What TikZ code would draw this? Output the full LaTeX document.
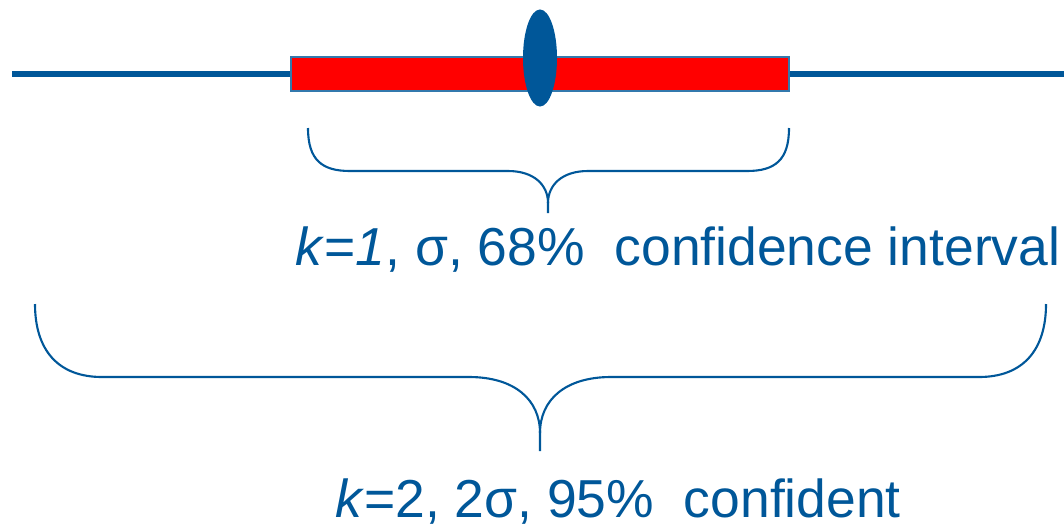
\documentclass[tikz,border=0pt]{standalone}
\usepackage{fontspec}
\setmainfont{Liberation Sans}
\usepackage{xcolor}
\usepackage{tikz}
\usetikzlibrary{shapes,positioning,calc}

\definecolor{uncblue}{RGB}{0,87,153}

\begin{document}
\begin{tikzpicture}[
    x=0.01cm, y=-0.01cm,
    axis/.style={draw=uncblue, line width=1.9pt},
    errbar/.style={rectangle, draw=uncblue!80, fill=red, line width=0.4pt, inner sep=0pt, minimum width=4.98cm, minimum height=0.34cm},
    meanpt/.style={ellipse, fill=uncblue, inner sep=0pt, minimum width=0.34cm, minimum height=0.97cm},
    brace/.style={draw=uncblue, line width=0.6pt},
    label/.style={text=uncblue, font=\fontsize{15.2pt}{18pt}\selectfont, anchor=base, inner sep=0pt}
]
    \useasboundingbox (0,0) rectangle (1064,527);

    \coordinate (lineL) at (12,74);
    \coordinate (lineR) at (1064,74);
    \draw [axis] (lineL) -- (lineR);

    \node [errbar] (bar) at (540,74) {};
    \node [meanpt] (est) at (540,58) {};

    \coordinate (b1L) at (308,128);
    \coordinate (b1R) at (789,128);
    \coordinate (b1T) at (548,213);
    \draw [brace] (b1L) .. controls (308,160) and (322,171) .. (350,171) -- (508,171)
        .. controls (534,171) and (548,185) .. (548,203) -- (b1T);
    \draw [brace] (b1R) .. controls (789,160) and (775,171) .. (747,171) -- (588,171)
        .. controls (562,171) and (548,185) .. (548,203);

    \coordinate (b2L) at (35,304);
    \coordinate (b2R) at (1046,304);
    \coordinate (b2T) at (540,451);
    \draw [brace] (b2L) .. controls (35,350) and (58,377) .. (102,377) -- (469,377)
        .. controls (515,377) and (540,400) .. (540,433) -- (b2T);
    \draw [brace] (b2R) .. controls (1046,350) and (1023,377) .. (979,377) -- (611,377)
        .. controls (565,377) and (540,400) .. (540,433);

    \node [label] (ci68) at (678,265) {\textit{k}=\textit{1}, σ, 68\%\ \ confidence interval};
    \node [label] (ci95) at (618,517) {\textit{k}=2, 2σ, 95\%\ \ confident};
\end{tikzpicture}
\end{document}
